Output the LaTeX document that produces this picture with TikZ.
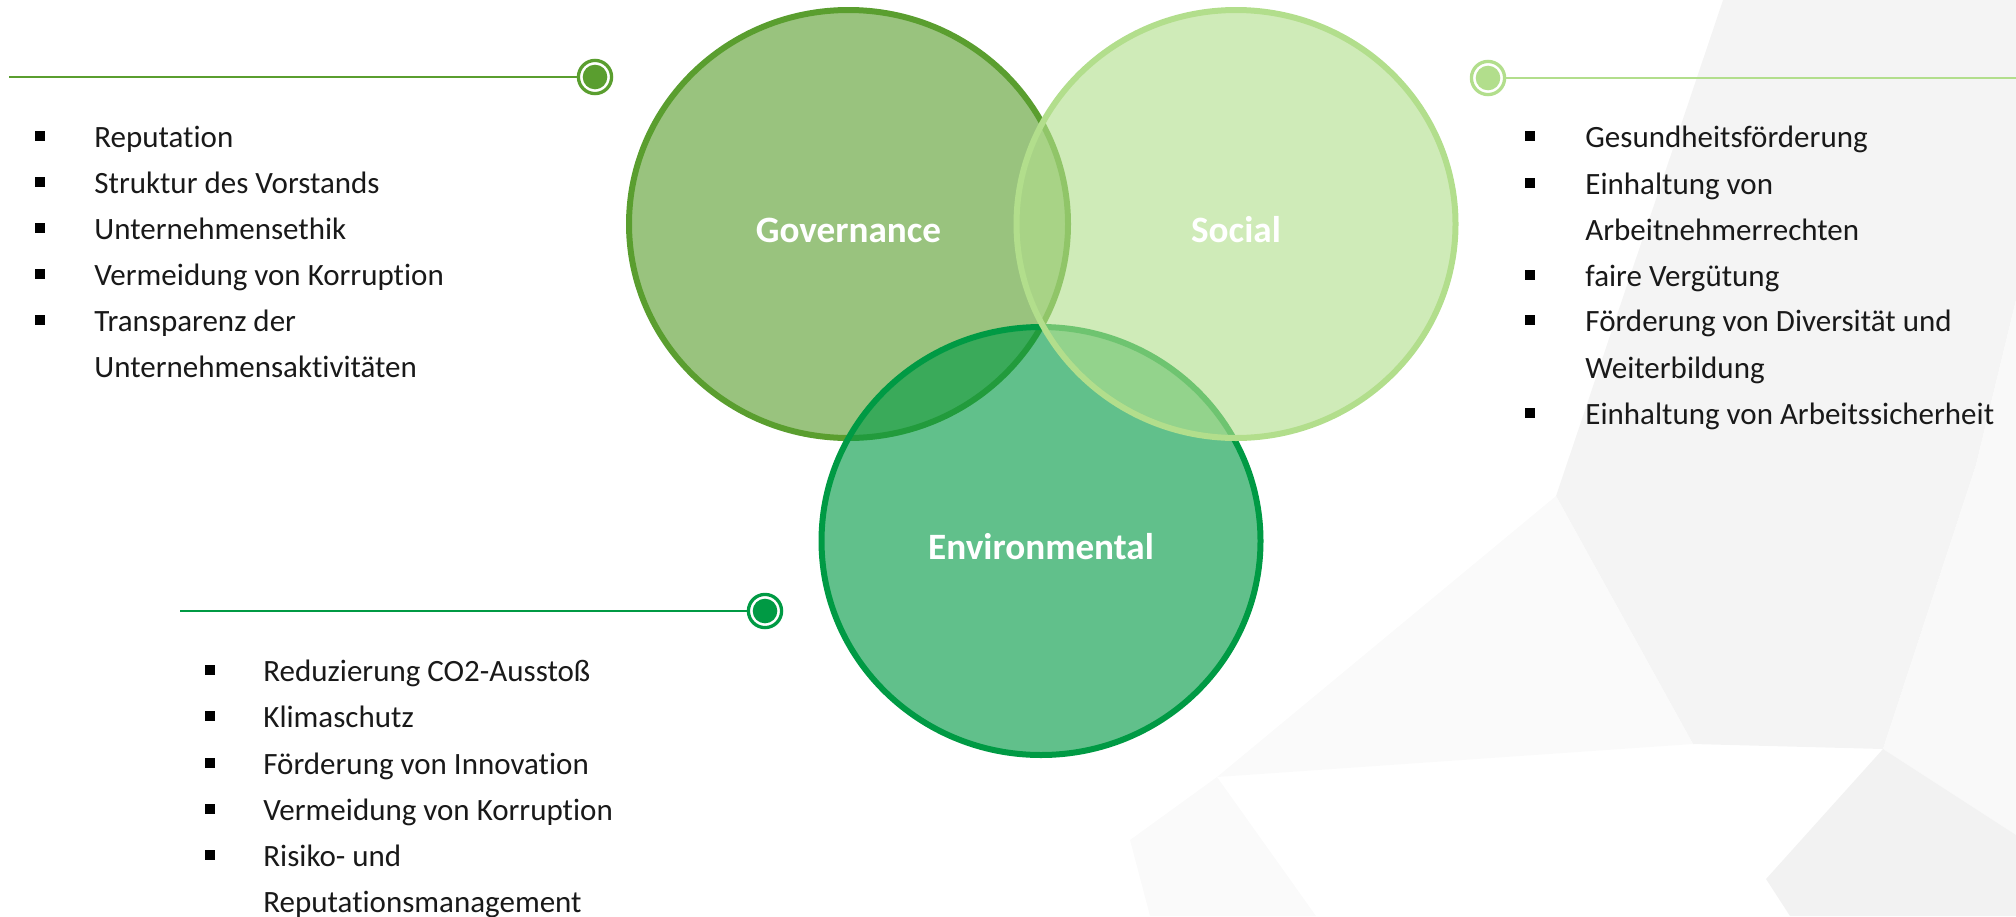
\documentclass[tikz,border=0pt]{standalone}
\usepackage{fontspec}
\setmainfont{Carlito}[Ligatures=CommonOff]
\usepackage{xcolor}
\usepackage{tikz}
\usetikzlibrary{shapes.geometric}
\definecolor{govgreen}{HTML}{5A9E2F}
\definecolor{socgreen}{HTML}{B2DE8C}
\definecolor{envgreen}{HTML}{009A44}
\definecolor{facetA}{HTML}{F4F4F4}
\definecolor{facetB}{HTML}{F2F2F2}
\definecolor{facetC}{HTML}{F9F9F9}
\definecolor{facetD}{HTML}{FAFAFA}
\tikzset{venn/.style={ellipse,draw=#1,fill=#1,line width=3pt,inner sep=0pt,minimum width=219.5pt,minimum height=214pt,fill opacity=0.62,text opacity=1,text=white,text height=18pt,text depth=0pt,font=\fontsize{18.6pt}{22pt}\selectfont\bfseries}}
\tikzset{marker/.style={circle,draw=#1,line width=1.65pt,fill=white,minimum size=16.6pt,inner sep=0pt,path picture={\fill[#1] (path picture bounding box.center) circle (6.15pt);}}}
\tikzset{rule/.style={line width=1pt}}
\tikzset{itemtext/.style={anchor=base west,inner sep=0pt,text=black!90,font=\fontsize{15.5pt}{18pt}\selectfont}}
\tikzset{bulletsq/.style={fill=black,minimum size=4.6pt,inner sep=0pt}}

\begin{document}
\begin{tikzpicture}[x=0.5pt,y=-0.5pt]
	\useasboundingbox (0,0) rectangle (2016,916);
	\fill[facetA] (1723,0) -- (2016,0) -- (2016,300) -- (1976,465) -- (1883,749) -- (1693,744) -- (1556,496) -- cycle;
	\fill[facetC] (1976,465) -- (2016,300) -- (2016,835) -- (1883,749) -- cycle;
	\fill[facetD] (1556,496) -- (1693,744) -- (1217,777) -- cycle;
	\fill[facetB] (1766,879) -- (1883,749) -- (2016,835) -- (2016,916) -- (1790,916) -- cycle;
	\fill[facetD] (1217,777) -- (1316,916) -- (1150,916) -- (1130,840) -- cycle;

	\coordinate (govstart) at (9,77);
	\coordinate (socend) at (2016,78);
	\coordinate (envstart) at (180,611);
	\node[marker=govgreen] (govmark) at (595,77) {};
	\node[marker=socgreen] (socmark) at (1488,78) {};
	\node[marker=envgreen] (envmark) at (765,611) {};
	\draw[rule,govgreen] (govstart) -- (govmark);
	\draw[rule,socgreen] (socmark) -- (socend);
	\draw[rule,envgreen] (envstart) -- (envmark);

	\node[venn=govgreen] (gov) at (848.5,224) {Governance};
	\node[venn=envgreen] (env) at (1041,541) {Environmental};
	\node[venn=socgreen] (soc) at (1236,224) {Social};

	\node[bulletsq] (breputation) at (40,136) {};
	\node[bulletsq] (bstruktur) at (40,182) {};
	\node[bulletsq] (bethik) at (40,228) {};
	\node[bulletsq] (bkorruptiong) at (40,274) {};
	\node[bulletsq] (btransparenz) at (40,320) {};
	\node[itemtext] (reputation) at (94,147) {Reputation};
	\node[itemtext] (struktur) at (94,193) {Struktur des Vorstands};
	\node[itemtext] (ethik) at (94,239) {Unternehmensethik};
	\node[itemtext] (korruptiong) at (94,285) {Vermeidung von Korruption};
	\node[itemtext] (transparenz) at (94,331) {Transparenz der};
	\node[itemtext] (aktivitaeten) at (94,377) {Unternehmensaktivitäten};

	\node[bulletsq] (bgesundheit) at (1530,136) {};
	\node[bulletsq] (beinhaltung) at (1530,183) {};
	\node[bulletsq] (bverguetung) at (1530,275) {};
	\node[bulletsq] (bdiversitaet) at (1530,320) {};
	\node[bulletsq] (bsicherheit) at (1530,413) {};
	\node[itemtext] (gesundheit) at (1585,147) {Gesundheitsförderung};
	\node[itemtext] (einhaltung) at (1585,194) {Einhaltung von};
	\node[itemtext] (rechte) at (1585,240) {Arbeitnehmerrechten};
	\node[itemtext] (verguetung) at (1585,286) {faire Vergütung};
	\node[itemtext] (diversitaet) at (1585,331) {Förderung von Diversität und};
	\node[itemtext] (weiterbildung) at (1585,378) {Weiterbildung};
	\node[itemtext] (sicherheit) at (1585,424) {Einhaltung von Arbeitssicherheit};

	\node[bulletsq] (bco) at (210,670) {};
	\node[bulletsq] (bklima) at (210,716) {};
	\node[bulletsq] (binnovation) at (210,763) {};
	\node[bulletsq] (bkorruptione) at (210,809) {};
	\node[bulletsq] (brisiko) at (210,855) {};
	\node[itemtext] (co) at (263,681) {Reduzierung CO2-Ausstoß};
	\node[itemtext] (klima) at (263,727) {Klimaschutz};
	\node[itemtext] (innovation) at (263,774) {Förderung von Innovation};
	\node[itemtext] (korruptione) at (263,820) {Vermeidung von Korruption};
	\node[itemtext] (risiko) at (263,866) {Risiko- und};
	\node[itemtext] (management) at (263,912) {Reputationsmanagement};
\end{tikzpicture}
\end{document}
